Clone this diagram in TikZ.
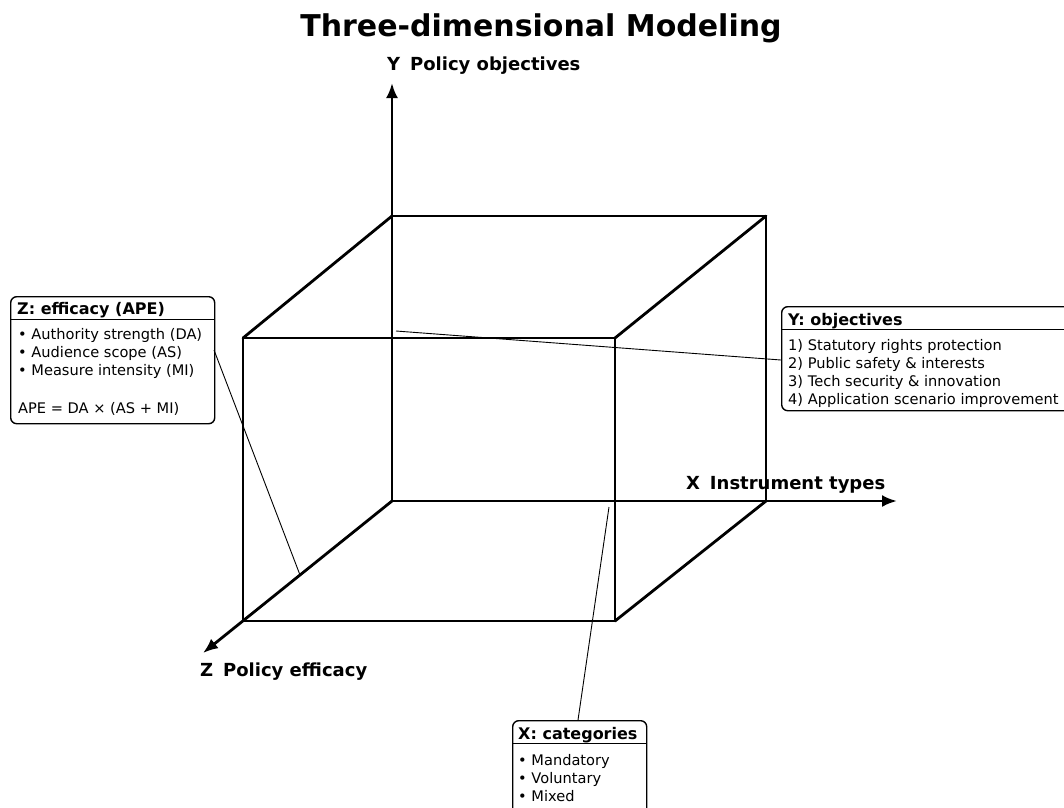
\documentclass[tikz,border=0pt]{standalone}
\usepackage{fontspec}
\setmainfont{DejaVu Sans}
\usetikzlibrary{arrows.meta,calc}
\begin{document}
\begin{tikzpicture}[x=1pt,y=-1pt,
  edge/.style={line width=2.8pt, line cap=round, line join=round},
  axis/.style={line width=2.8pt, -{Latex[length=15pt,width=12pt]}},
  leader/.style={line width=0.9pt},
  panel/.style={draw, line width=1.4pt, rounded corners=6pt, fill=white, inner sep=0pt, anchor=north west},
  head/.style={font=\fontsize{16}{18}\bfseries\selectfont, inner sep=0pt, anchor=base west},
  bodyline/.style={font=\fontsize{14.6}{18}\selectfont, inner sep=0pt, anchor=base west},
  axlabel/.style={font=\fontsize{18}{21}\bfseries\selectfont, inner sep=0pt, anchor=base west},
]
\useasboundingbox (0,0) rectangle (1064,807);
\clip (0,0) rectangle (1064,807);
\fill[white] (0,0) rectangle (1064,807);

% title
\node[font=\fontsize{30}{34}\bfseries\selectfont, inner sep=0pt] (title) at (541,28) {Three-dimensional Modeling};

% box corners
\coordinate (O) at (392,501);
\coordinate (B1) at (392,216);
\coordinate (B2) at (766,216);
\coordinate (B3) at (766,501);
\coordinate (F1) at (243,338);
\coordinate (F2) at (615,338);
\coordinate (F3) at (615,621);
\coordinate (F4) at (243,621);

% axes
\coordinate (Ytip) at (392,83);
\coordinate (Xtip) at (897,501);
\coordinate (Ztip) at (203,653);
\draw[axis] (O) -- (Ytip);
\draw[axis] (O) -- (Xtip);
\draw[axis] (O) -- (Ztip);

% box
\draw[edge] (B1) -- (B2) -- (B3);
\draw[edge] (F1) -- (F2) -- (F3) -- (F4) -- cycle;
\draw[edge] (F1) -- (B1);
\draw[edge] (F2) -- (B2);
\draw[edge] (F3) -- (B3);

% axis labels
\node[axlabel] (ylab) at (387,70) {Y\hspace{0.55em}Policy objectives};
\node[axlabel] (xlab) at (686,489) {X\hspace{0.55em}Instrument types};
\node[axlabel] (zlab) at (200,676) {Z\hspace{0.55em}Policy efficacy};

% leader anchor points
\coordinate (zpt) at (300,575);
\coordinate (ypt) at (396,331);
\coordinate (xpt) at (609,507);

% Z panel
\node[panel, minimum width=204pt, minimum height=127pt] (zbox) at (10,296) {};
\draw[line width=0.9pt] ($(zbox.north west)+(0,23)$) -- ($(zbox.north east)+(0,23)$);
\node[head] (zhead) at (17,314) {Z: efficacy (APE)};
\node[bodyline] (z1) at (18,339) {• Authority strength (DA)};
\node[bodyline] (z2) at (18,357) {• Audience scope (AS)};
\node[bodyline] (z3) at (18,375) {• Measure intensity (MI)};
\node[bodyline] (z4) at (18,413) {APE = DA × (AS + MI)};
\coordinate (zleaf) at (214,350);
\draw[leader] (zleaf) -- (zpt);

% Y panel
\node[panel, minimum width=300pt, minimum height=104pt] (ybox) at (781,306) {};
\draw[line width=0.9pt] ($(ybox.north west)+(0,23)$) -- ($(ybox.north east)+(0,23)$);
\node[head] (yhead) at (788,325) {Y: objectives};
\node[bodyline] (y1) at (788,350) {1) Statutory rights protection};
\node[bodyline] (y2) at (788,368) {2) Public safety \& interests};
\node[bodyline] (y3) at (788,386) {3) Tech security \& innovation};
\node[bodyline] (y4) at (788,404) {4) Application scenario improvement};
\coordinate (yleaf) at (781,360);
\draw[leader] (ypt) -- (yleaf);

% X panel
\node[panel, minimum width=134pt, minimum height=100pt] (xbox) at (512,720) {};
\draw[line width=0.9pt] ($(xbox.north west)+(0,23)$) -- ($(xbox.north east)+(0,23)$);
\node[head] (xhead) at (518,739) {X: categories};
\node[bodyline] (x1) at (518,765) {• Mandatory};
\node[bodyline] (x2) at (518,783) {• Voluntary};
\node[bodyline] (x3) at (518,801) {• Mixed};
\coordinate (xleaf) at (578,720);
\draw[leader] (xpt) -- (xleaf);
\end{tikzpicture}
\end{document}
